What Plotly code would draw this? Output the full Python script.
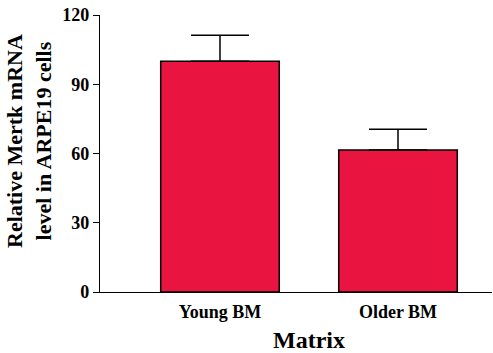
import plotly.graph_objects as go

categories = ["Young BM", "Older BM"]
values = [100, 61.5]
errors = [11.2, 9.0]
y_ticks = [0, 30, 60, 90, 120]

fig = go.Figure()
fig.add_trace(go.Bar(
    x=[0, 1], y=values, width=0.666,
    marker=dict(color="#EA1440", line=dict(color="black", width=1.5)),
    error_y=dict(type="data", array=errors, arrayminus=[0, 0], symmetric=False,
                 color="black", thickness=1.5, width=29),
))

W, H = 493, 353
L, R, T, B = 100, 1, 15, 61
pw = W - L - R
ph = H - T - B

fig.update_layout(
    width=W, height=H,
    margin=dict(l=L, r=R, t=T, b=B),
    plot_bgcolor="white", paper_bgcolor="white",
    showlegend=False,
    font=dict(family="Liberation Serif", color="black"),
    xaxis=dict(range=[-0.674, 1.528], tickmode="array", tickvals=[0, 1],
               ticktext=["<b>%s</b>" % c for c in categories],
               showline=True, linecolor="black", linewidth=1.2, ticks="", showgrid=False,
               zeroline=False, ticklabelstandoff=3,
               tickfont=dict(size=18, family="Liberation Serif")),
    yaxis=dict(range=[0, 120], tickmode="array", tickvals=y_ticks,
               ticktext=["<b>%d</b>" % v for v in y_ticks],
               showline=True, linecolor="black", linewidth=1.2,
               ticks="outside", ticklen=6, tickwidth=1.2, tickcolor="black", showgrid=False,
               zeroline=False, tickfont=dict(size=18, family="Liberation Serif")),
    annotations=[
        dict(text="<b>Relative Mertk mRNA<br>level in ARPE19 cells</b>", textangle=-90,
             xref="paper", yref="paper", x=(29 - L) / pw, y=(H - B - 141) / ph,
             xanchor="center", yanchor="middle", showarrow=False,
             font=dict(size=22, family="Liberation Serif")),
        dict(text="<b>Matrix</b>", xref="paper", yref="paper",
             x=(309 - L) / pw, y=-(340 - (H - B)) / ph,
             xanchor="center", yanchor="middle", showarrow=False,
             font=dict(size=24, family="Liberation Serif")),
    ],
)
fig.write_html("out.html")
